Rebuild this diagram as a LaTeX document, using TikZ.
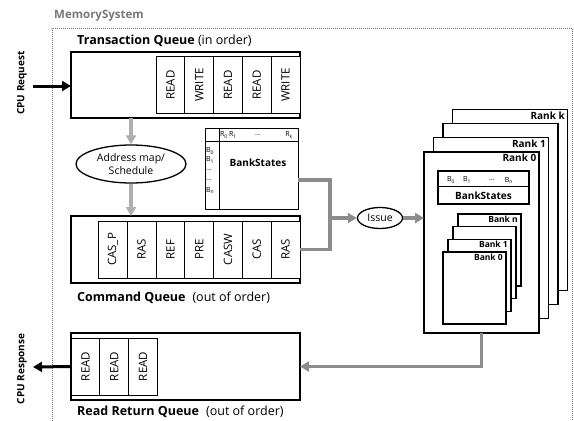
\documentclass[tikz,border=0pt]{standalone}
\usepackage{fontspec, graphicx}
\setmainfont{Open Sans}
\usetikzlibrary{arrows.meta, positioning, shapes.geometric}
\newcommand{\fsz}[1]{\fontsize{#1}{1.2\dimexpr#1pt\relax}\selectfont}
\definecolor{flowgray}{RGB}{140,140,140}
\definecolor{mapgray}{RGB}{175,175,175}
\definecolor{framegray}{RGB}{120,120,120}
\tikzset{queue box/.style={draw,line width=1.4pt,fill=white,inner sep=0pt,outer sep=0pt},
  cmd cell/.style={draw,line width=0.9pt,fill=white,minimum width=28.8pt,minimum height=57pt,inner sep=0pt,outer sep=0pt,font=\fsz{11.5}},
  state box/.style={draw,line width=1pt,fill=white,inner sep=0pt,outer sep=0pt},
  rank box/.style={draw,line width=1.2pt,fill=white,minimum width=115pt,minimum height=181pt,inner sep=0pt,outer sep=0pt},
  bank box/.style={draw,line width=1.2pt,fill=white,minimum width=63pt,minimum height=72pt,inner sep=0pt,outer sep=0pt},
  small lbl/.style={inner sep=0pt,font=\fsz{7}},
  box lbl/.style={inner sep=1pt,font=\bfseries\fsz{10}},
  queue lbl/.style={anchor=base west,inner sep=0pt,font=\fsz{12.5}},
  cpu lbl/.style={rotate=90,inner sep=0pt,font=\bfseries\fsz{10}},
  flow line/.style={draw=flowgray,line width=3.5pt},
  flow arrow/.style={flow line,-{Triangle[length=9pt,width=10pt]}},
  map arrow/.style={draw=mapgray,line width=4pt,-{Triangle[length=9pt,width=10pt]}},
  cpu arrow/.style={draw=black,line width=3pt,-{Triangle[length=9pt,width=10pt]}},
}

\begin{document}
\begin{tikzpicture}[x=1pt,y=-1pt]
    \useasboundingbox (0,0) rectangle (574,421);
    % outer frame
    \draw[framegray,line width=1pt,densely dotted] (52,28) rectangle (572,440);
    \node[anchor=base west,inner sep=0pt,text=framegray,font=\bfseries\fsz{11.5}] (ms) at (54,18.5) {MemorySystem};

    % transaction queue
    \node[queue box,minimum width=229pt,minimum height=66pt] (tq) at (185.5,85) {};
    \node[cmd cell,anchor=east] (tq5) at (tq.east) {\rotatebox{90}{WRITE}};
    \node[cmd cell,left=0pt of tq5] (tq4) {\rotatebox{90}{READ}};
    \node[cmd cell,left=0pt of tq4] (tq3) {\rotatebox{90}{READ}};
    \node[cmd cell,left=0pt of tq3] (tq2) {\rotatebox{90}{WRITE}};
    \node[cmd cell,left=0pt of tq2] (tq1) {\rotatebox{90}{READ}};
    \node[queue lbl] (tqlbl) at (77,44) {\textbf{Transaction Queue} (in order)};

    % address map
    \node[ellipse,draw,line width=1.3pt,minimum width=110pt,minimum height=38pt,inner sep=0pt,align=center,font=\fsz{10.5}] (map) at (131,164) {Address map/\\Schedule};

    % command queue
    \node[queue box,minimum width=229pt,minimum height=67pt] (cq) at (185.5,249.5) {};
    \node[cmd cell,anchor=east] (cq7) at (cq.east) {\rotatebox{90}{RAS}};
    \node[cmd cell,left=0pt of cq7] (cq6) {\rotatebox{90}{CAS}};
    \node[cmd cell,left=0pt of cq6] (cq5) {\rotatebox{90}{CASW}};
    \node[cmd cell,left=0pt of cq5] (cq4) {\rotatebox{90}{PRE}};
    \node[cmd cell,left=0pt of cq4] (cq3) {\rotatebox{90}{REF}};
    \node[cmd cell,left=0pt of cq3] (cq2) {\rotatebox{90}{RAS}};
    \node[cmd cell,left=0pt of cq2] (cq1) {\rotatebox{90}{CAS\_P}};
    \node[queue lbl] (cqlbl) at (77,301) {\textbf{Command Queue}\hspace{7pt}(out of order)};

    \draw[map arrow] (tq.south -| map) -- (map.north);
    \draw[map arrow] (map.south) -- (map.south |- cq.north);

    % bank states of the controller
    \node[state box,minimum width=93pt,minimum height=81pt] (bs) at (251.5,168.5) {};
    \draw[line width=0.8pt] ([yshift=-13pt]bs.north west) -- ([yshift=-13pt]bs.north east);
    \draw[line width=0.8pt] ([xshift=14pt]bs.north west) -- ([xshift=14pt]bs.south west);
    \node[box lbl] (bslbl) at (258,163) {BankStates};
    \node[small lbl] (r0) at (224,135) {R\textsubscript{0}};
    \node[small lbl] (r1) at (233,135) {R\textsubscript{1}};
    \node[small lbl] (rd) at (258,135) {...};
    \node[small lbl] (rk) at (289,135) {R\textsubscript{k}};
    \node[small lbl,anchor=west] (b0) at (206,151) {B\textsubscript{0}};
    \node[small lbl,anchor=west] (b1) at (206,160) {B\textsubscript{1}};
    \node[small lbl,anchor=west] (bd1) at (206,170) {...};
    \node[small lbl,anchor=west] (bd2) at (206,180) {...};
    \node[small lbl,anchor=west] (bn) at (206,190) {B\textsubscript{n}};

    % issue
    \node[ellipse,draw,line width=1.3pt,minimum width=45pt,minimum height=21pt,inner sep=0pt,font=\fsz{10.5}] (issue) at (380,218) {Issue};
    \coordinate (join) at (330,218);
    \path[flow line] ([yshift=-11.5pt]bs.east) -| (join |- cq.east) -- (cq.east);
    \draw[flow arrow] (join) -- (issue.west);

    % ranks
    \node[rank box] (rankk) at (510,199.7) {};
    \node[rank box] (rank2) at (500.5,214) {};
    \node[rank box] (rank1) at (491,228.2) {};
    \node[rank box] (rank0) at (481.5,242.5) {};
    \node[box lbl,anchor=north east] at ([shift={(-1.5pt,-1pt)}]rankk.north east) {Rank k};
    \node[box lbl,anchor=north east] at ([shift={(-1.5pt,-1pt)}]rank1.north east) {Rank 1};
    \node[box lbl,anchor=north east] at ([shift={(-1.5pt,-1pt)}]rank0.north east) {Rank 0};
    \draw[flow arrow] (issue.east) -- (issue.east -| rank0.west);

    % bank states of rank 0
    \node[state box,line width=1.2pt,minimum width=91pt,minimum height=33pt] (rbs) at (483.5,187.5) {};
    \draw[line width=0.8pt] ([yshift=-15pt]rbs.north west) -- ([yshift=-15pt]rbs.north east);
    \node[box lbl] (rbslbl) at (483.5,195.5) {BankStates};
    \node[small lbl] (rb0) at (451,180) {B\textsubscript{0}};
    \node[small lbl] (rb1) at (467,180) {B\textsubscript{1}};
    \node[small lbl] (rbd) at (492,180) {...};
    \node[small lbl] (rbn) at (509,180) {B\textsubscript{n}};

    % banks
    \node[bank box] (bankn) at (489.5,249.9) {};
    \node[bank box] (bank2) at (484.5,262.6) {};
    \node[bank box] (bank1) at (479.5,275.3) {};
    \node[bank box] (bank0) at (474.5,288) {};
    \node[box lbl,font=\bfseries\fsz{8.5},anchor=north east] at ([shift={(-2pt,-1pt)}]bankn.north east) {Bank n};
    \node[box lbl,font=\bfseries\fsz{8.5},anchor=north east] at ([shift={(-2pt,-1pt)}]bank1.north east) {Bank 1};
    \node[box lbl,font=\bfseries\fsz{8.5},anchor=north east] at ([shift={(-2pt,-1pt)}]bank0.north east) {Bank 0};

    % read return queue
    \node[queue box,minimum width=229pt,minimum height=67pt] (rq) at (185.5,366.5) {};
    \node[cmd cell,anchor=west] (rq1) at (rq.west) {\rotatebox{90}{READ}};
    \node[cmd cell,right=0pt of rq1] (rq2) {\rotatebox{90}{READ}};
    \node[cmd cell,right=0pt of rq2] (rq3) {\rotatebox{90}{READ}};
    \node[queue lbl] (rqlbl) at (77,415) {\textbf{Read Return Queue}\hspace{7pt}(out of order)};
    \draw[flow arrow] (rank0.south) |- (rq.east);

    % cpu side
    \coordinate (req) at (33,86);
    \coordinate (resp) at (33,367);
    \node[cpu lbl] (reqlbl) at (22,83) {CPU Request};
    \node[cpu lbl] (resplbl) at (22,369) {CPU Response};
    \draw[cpu arrow] (req) -- (req -| tq.west);
    \draw[cpu arrow] (rq.west) -- (resp);
\end{tikzpicture}
\end{document}
